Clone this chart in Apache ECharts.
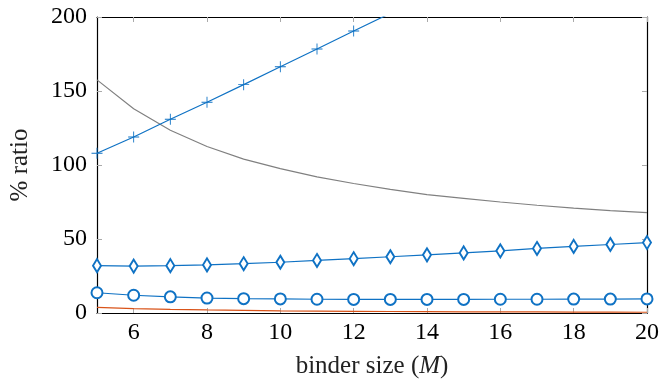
<!DOCTYPE html>
<html>
<head>
<meta charset="utf-8">
<script src="https://cdn.jsdelivr.net/npm/echarts@6/dist/echarts.min.js"></script>
<style>
  html, body { margin: 0; padding: 0; background: #fff; }
  #chart { width: 662px; height: 386px; }
</style>
</head>
<body>
<div id="chart"></div>
<script>
// binder size M
const binderSizes = [5, 6, 7, 8, 9, 10, 11, 12, 13, 14, 15, 16, 17, 18, 19, 20];

// series values (% ratio)
const plusValues = [107.9, 118.9, 130.9, 142.4, 154.3, 166.4, 178.4, 190.5, 202.5, null, null, null, null, null, null, null];
const grayValues = [157.5, 138.0, 123.5, 112.5, 104.0, 97.5, 92.0, 87.5, 83.5, 80.0, 77.5, 75.0, 72.8, 70.8, 69.2, 67.8];
const diamondValues = [32.0, 31.7, 32.0, 32.5, 33.3, 34.3, 35.5, 36.7, 38.0, 39.3, 40.6, 42.0, 43.6, 45.0, 46.3, 47.6];
const circleValues = [13.7, 12.0, 10.9, 10.1, 9.7, 9.5, 9.3, 9.2, 9.2, 9.2, 9.2, 9.3, 9.3, 9.4, 9.4, 9.5];
const orangeValues = [3.8, 3.0, 2.5, 2.1, 1.8, 1.5, 1.3, 1.1, 1.0, 0.9, 0.8, 0.7, 0.7, 0.6, 0.6, 0.5];

const xTicks = [6, 8, 10, 12, 14, 16, 18, 20];

const BLUE = '#0f72c4';
const ORANGE = '#d95319';
const GRAY = '#808080';
const FONT = '"Liberation Serif", "DejaVu Serif", serif';

const pairs = vals => binderSizes.map((x, i) => [x, vals[i]]);

const chart = echarts.init(document.getElementById('chart'));

const tickStyle = { show: true, inside: true, length: 5, lineStyle: { color: '#aaa', width: 1 } };
const frameLine = { show: true, onZero: false, lineStyle: { color: '#000', width: 1.2 } };

chart.setOption({
  animation: false,
  backgroundColor: '#fff',
  grid: { left: 95, right: 12, top: 17, bottom: 73 },
  xAxis: [
    {
      type: 'value', min: 5, max: 20,
      axisLine: frameLine,
      axisTick: Object.assign({ customValues: xTicks }, tickStyle),
      axisLabel: { customValues: xTicks, color: '#000', fontFamily: FONT, fontSize: 24, margin: 8 },
      splitLine: { show: false },
      name: '{a|binder size (}{i|M}{a|)}',
      nameLocation: 'middle',
      nameGap: 41,
      nameTextStyle: {
        rich: {
          a: { fontFamily: FONT, fontSize: 25, color: '#222' },
          i: { fontFamily: FONT, fontSize: 25, color: '#222', fontStyle: 'italic' }
        }
      }
    },
    {
      type: 'value', min: 5, max: 20, position: 'top',
      axisLine: frameLine,
      axisTick: Object.assign({ customValues: xTicks }, tickStyle),
      axisLabel: { show: false },
      splitLine: { show: false }
    }
  ],
  yAxis: [
    {
      type: 'value', min: 0, max: 200, interval: 50,
      axisLine: frameLine,
      axisTick: tickStyle,
      axisLabel: { color: '#000', fontFamily: FONT, fontSize: 24, margin: 10 },
      splitLine: { show: false },
      name: '% ratio',
      nameLocation: 'middle',
      nameGap: 64,
      nameTextStyle: { fontFamily: FONT, fontSize: 25, color: '#222' }
    },
    {
      type: 'value', min: 0, max: 200, interval: 50, position: 'right',
      axisLine: frameLine,
      axisTick: tickStyle,
      axisLabel: { show: false },
      splitLine: { show: false }
    }
  ],
  series: [
    {
      type: 'line', data: pairs(grayValues), symbol: 'none',
      lineStyle: { color: GRAY, width: 1.2 }, z: 2
    },
    {
      type: 'line', data: pairs(orangeValues), symbol: 'none',
      lineStyle: { color: ORANGE, width: 1.2 }, z: 2
    },
    {
      type: 'line', data: pairs(plusValues), clip: true,
      symbol: 'path://M-0.08,-1H0.08V1H-0.08Z M-1,-0.08H1V0.08H-1Z', symbolSize: 11,
      itemStyle: { color: BLUE }, lineStyle: { color: BLUE, width: 1.2 }, z: 3
    },
    {
      type: 'line', data: pairs(diamondValues),
      symbol: 'emptyDiamond', symbolSize: [8, 13],
      itemStyle: { color: BLUE, borderWidth: 1 }, lineStyle: { color: BLUE, width: 1.2 }, z: 3
    },
    {
      type: 'line', data: pairs(circleValues),
      symbol: 'emptyCircle', symbolSize: 11,
      itemStyle: { color: BLUE, borderWidth: 1 }, lineStyle: { color: BLUE, width: 1.2 }, z: 3
    }
  ]
});
</script>
</body>
</html>
